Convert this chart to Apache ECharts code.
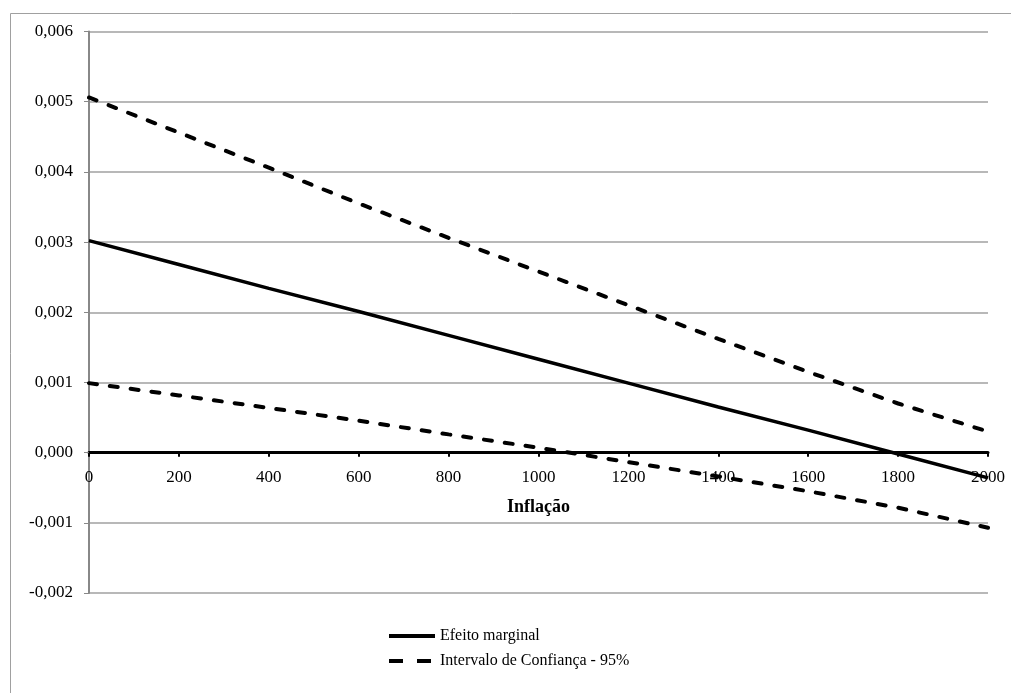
<!DOCTYPE html>
<html>
<head>
<meta charset="utf-8">
<script src="https://cdn.jsdelivr.net/npm/echarts@6/dist/echarts.min.js"></script>
<style>
html,body{margin:0;padding:0;background:#fff;}
#chart{width:1011px;height:693px;}
</style>
</head>
<body>
<div id="chart"></div>
<script>
const inflacao = [0, 200, 400, 600, 800, 1000, 1200, 1400, 1600, 1800, 2000];
const efeitoMarginal = [0.00302, 0.00268, 0.00234, 0.00201, 0.00167, 0.00133, 0.00099, 0.00065, 0.00032, -0.00002, -0.00036];
const icSuperior = [0.00506, 0.00456, 0.00406, 0.00355, 0.00306, 0.00258, 0.00210, 0.00162, 0.00115, 0.00070, 0.00030];
const icInferior = [0.00099, 0.000815, 0.000637, 0.000455, 0.00026, 0.00007, -0.000135, -0.00034, -0.00055, -0.000785, -0.00107];
const xTicks = { min: 0, max: 2000, interval: 200 };
const yTicks = { min: -0.002, max: 0.006, interval: 0.001 };

const font = '"Liberation Serif", "Times New Roman", serif';
const pair = (xs, ys) => xs.map((x, i) => [x, ys[i]]);
const dash = [8, 13];

const gridTop = 31.5, gridBottom = 100, H = 693;
const plotH = H - gridTop - gridBottom;
// x axis sits on y = 0: shift it up from the bottom edge by the share of the plot below zero
const zeroShift = plotH * (0 - yTicks.min) / (yTicks.max - yTicks.min);

const chart = echarts.init(document.getElementById('chart'));
chart.setOption({
  animation: false,
  backgroundColor: '#fff',
  graphic: [{
    type: 'rect', left: 8, top: 11, shape: { width: 1100, height: 800 },
    style: { fill: 'none', stroke: '#a0a0a0', lineWidth: 1 }, silent: true, z: -10
  }],
  grid: { left: 89, right: 23, top: gridTop, bottom: gridBottom, containLabel: false },
  legend: {
    orient: 'vertical', left: 382, top: 623, itemWidth: 46, itemHeight: 14, itemGap: 9,
    itemStyle: { opacity: 0 },
    lineStyle: { width: 4 },
    textStyle: { fontFamily: font, fontSize: 16, color: '#000' },
    data: [
      { name: 'Efeito marginal' },
      { name: 'Intervalo de Confiança - 95%', lineStyle: { width: 4, type: [14, 14], cap: 'butt' } }
    ]
  },
  xAxis: {
    type: 'value', min: xTicks.min, max: xTicks.max, interval: xTicks.interval,
    offset: -zeroShift,
    name: 'Inflação', nameLocation: 'middle', nameGap: 46,
    nameTextStyle: { fontFamily: font, fontSize: 18, fontWeight: 'bold', color: '#000' },
    axisLine: { onZero: false, lineStyle: { color: '#000', width: 3 } },
    axisTick: { show: true, length: 4, lineStyle: { color: '#000', width: 2 } },
    axisLabel: { fontFamily: font, fontSize: 17, color: '#000', margin: 16, formatter: v => String(v) },
    splitLine: { show: false }
  },
  yAxis: {
    type: 'value', min: yTicks.min, max: yTicks.max, interval: yTicks.interval,
    axisLine: { show: true, onZero: false, lineStyle: { color: '#888', width: 2 } },
    axisTick: { show: true, length: 5, lineStyle: { color: '#888', width: 1 } },
    axisLabel: {
      fontFamily: font, fontSize: 17, color: '#000', margin: 16,
      formatter: v => { const s = Math.abs(v) < 1e-9 ? '0.000' : v.toFixed(3); return s.replace('.', ','); }
    },
    splitLine: { show: true, lineStyle: { color: '#a0a0a0', width: 1.5 } }
  },
  series: [
    {
      name: 'Efeito marginal', type: 'line', symbol: 'none', data: pair(inflacao, efeitoMarginal),
      lineStyle: { color: '#000', width: 3.5 }, itemStyle: { color: '#000' }, z: 3
    },
    {
      name: 'Intervalo de Confiança - 95%', type: 'line', symbol: 'none', data: pair(inflacao, icSuperior),
      lineStyle: { color: '#000', width: 4, type: dash, cap: 'round' }, itemStyle: { color: '#000' }, z: 3
    },
    {
      name: 'Intervalo de Confiança - 95%', type: 'line', symbol: 'none', data: pair(inflacao, icInferior),
      lineStyle: { color: '#000', width: 4, type: dash, cap: 'round' }, itemStyle: { color: '#000' }, z: 3
    }
  ]
});
</script>
</body>
</html>
